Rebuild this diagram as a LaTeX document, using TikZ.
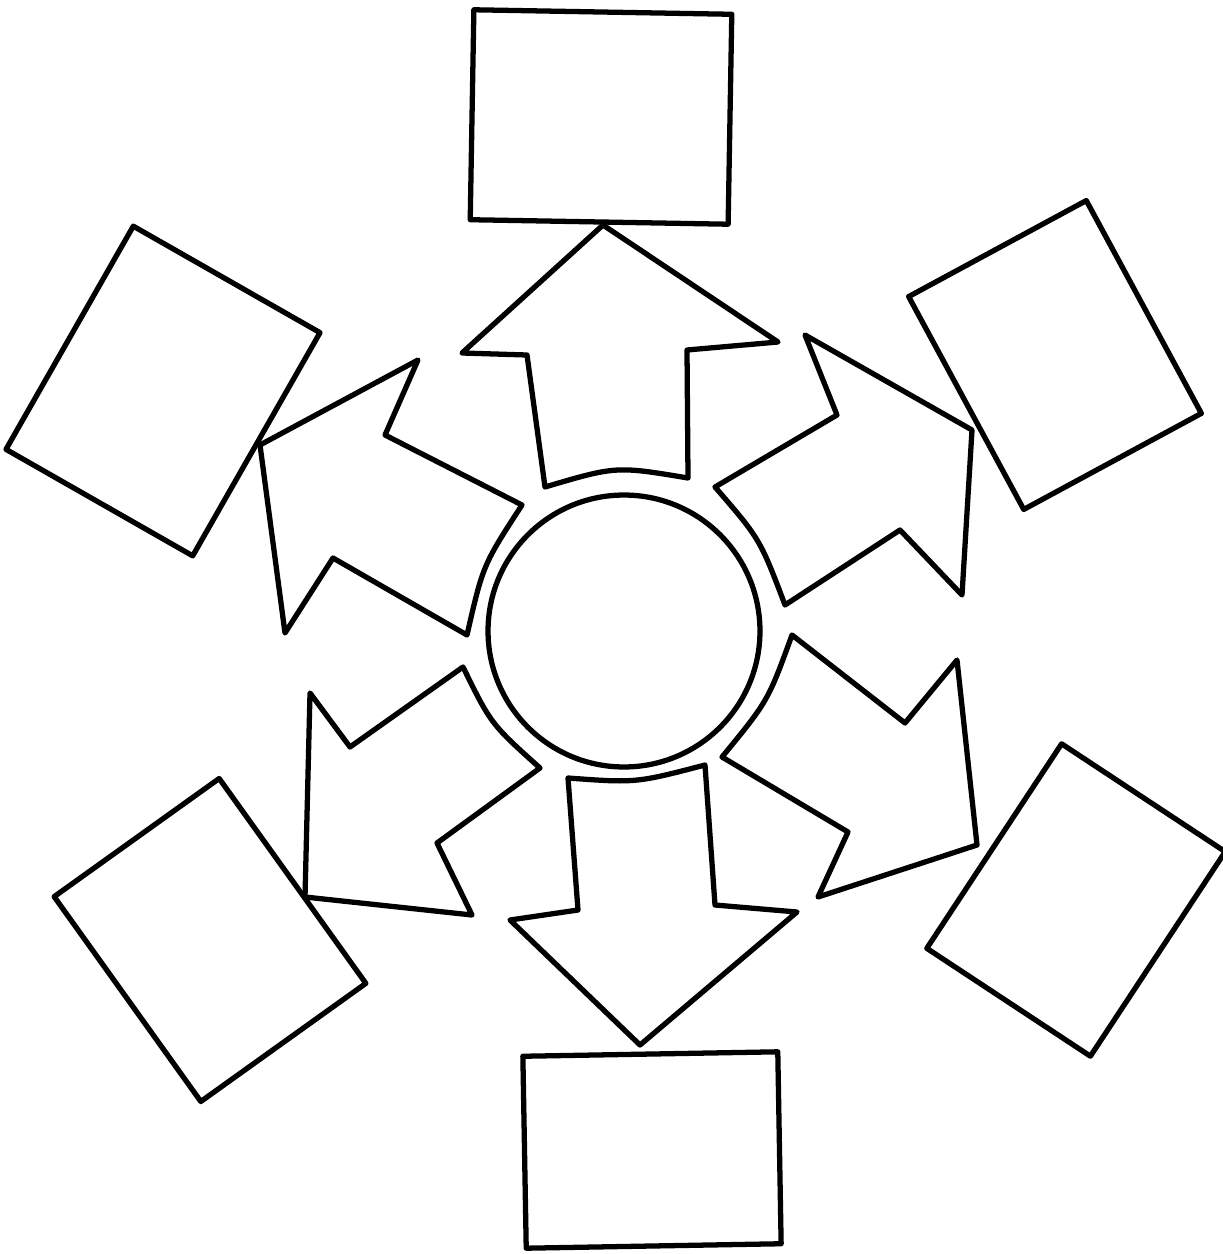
\documentclass[tikz,border=0pt]{standalone}
\begin{document}
\begin{tikzpicture}[x=0.02cm,y=-0.02cm,
  line width=3pt, line join=round, line cap=round,
  box/.style={draw, rectangle, inner sep=0pt, outer sep=0pt},
  hub/.style={draw, circle, inner sep=0pt, minimum size=5.44cm},
  blockarrow/.style={draw}]
\useasboundingbox (0,0) rectangle (1223,1254);

% central circle
\node[hub] (hub) at (624,631) {};

% boxes
\node[box, rotate=-1, minimum width=5.16cm, minimum height=4.2cm]  (bT)  at (601,117) {};
\node[box, rotate=-61.6, minimum width=4.84cm, minimum height=4.04cm] (bUR) at (1055,355) {};
\node[box, rotate=56.6, minimum width=4.9cm, minimum height=3.92cm] (bLR) at (1076,900) {};
\node[box, rotate=1, minimum width=5.1cm, minimum height=3.84cm] (bB) at (652,1150) {};
\node[box, rotate=-54.4, minimum width=5.04cm, minimum height=4.06cm] (bLL) at (210,940) {};
\node[box, rotate=60.3, minimum width=5.14cm, minimum height=4.3cm] (bUL) at (163,391) {};

% block arrows
% up
\draw[blockarrow] (545,487) -- (527,355) -- (462,353) -- (603,225) -- (778,342)
  -- (687,350) -- (688,478) .. controls (616,466) .. (545,487) -- cycle;
% upper right
\draw[blockarrow] (715,487) -- (837,415) -- (805,335) -- (972,430) -- (962,595)
  -- (900,530) -- (785,605) .. controls (760,539) .. (715,487) -- cycle;
% lower right
\draw[blockarrow] (792,635) -- (905,723) -- (957,660) -- (977,845) -- (818,897)
  -- (848,832) -- (722,757) .. controls (768,701) .. (792,635) -- cycle;
% down
\draw[blockarrow] (705,765) -- (715,905) -- (797,912) -- (640,1045) -- (510,920)
  -- (578,910) -- (568,778) .. controls (636,783) .. (705,765) -- cycle;
% lower left
\draw[blockarrow] (463,667) -- (350,747) -- (310,693) -- (305,897) -- (472,915)
  -- (437,843) -- (540,768) .. controls (491,724) .. (463,667) -- cycle;
% upper left
\draw[blockarrow] (418,360) -- (385,435) -- (522,505) .. controls (483,565) .. (467,635)
  -- (333,558) -- (285,633) -- (260,445) -- cycle;
\end{tikzpicture}
\end{document}
